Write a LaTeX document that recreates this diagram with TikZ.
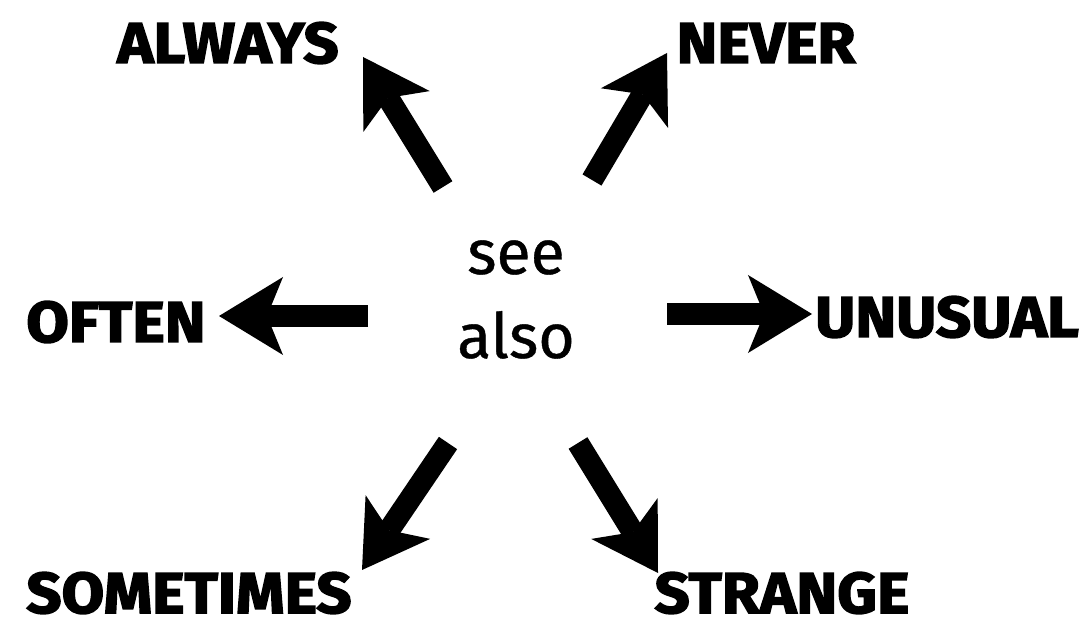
\documentclass[tikz,border=0pt]{standalone}
\usepackage{fontspec}
\setmainfont{Fira Sans}
\newfontfamily\heavyfont{Fira Sans}[BoldFeatures={FakeBold=2.6, FakeStretch=1.07}]
\newfontfamily\seefont{Fira Sans}[FakeBold=0.6]
\usetikzlibrary{arrows.meta}

\begin{document}
\begin{tikzpicture}[
  x=0.025cm, y=-0.025cm,
  word/.style={anchor=base, inner sep=0pt, font=\heavyfont\bfseries\fontsize{41}{48}\selectfont},
  seealso/.style={align=center, inner sep=0pt, font=\seefont\fontsize{44.5}{84}\selectfont},
  arrow/.style={-{Stealth[length=1.6cm, width=1.95cm, inset=0.4cm, line width=0pt]}, line width=0.55cm, black}
]
\useasboundingbox (0,0) rectangle (1079,628);
% centre words
\node[seealso, anchor=base] (see) at (516,274) {see};
\node[seealso, anchor=base] (also) at (516,358) {also};
% the six words round them
\node[word] (always) at (228,63) {ALWAYS};
\node[word] (never) at (766,63) {NEVER};
\node[word] (often) at (116,342) {OFTEN};
\node[word] (unusual) at (947,337) {UNUSUAL};
\node[word] (sometimes) at (189,613) {SOMETIMES};
\node[word] (strange) at (782,613) {STRANGE};
% arrow ends
\coordinate (always-tail) at (443,187);
\coordinate (always-tip) at (363,57);
\coordinate (never-tail) at (592,180);
\coordinate (never-tip) at (667,53);
\coordinate (often-tail) at (368,316);
\coordinate (often-tip) at (219,316);
\coordinate (unusual-tail) at (667,314);
\coordinate (unusual-tip) at (812,314);
\coordinate (sometimes-tail) at (448,443);
\coordinate (sometimes-tip) at (362,570);
\coordinate (strange-tail) at (578,443);
\coordinate (strange-tip) at (658,573);
\draw[arrow] (always-tail) -- (always-tip);
\draw[arrow] (never-tail) -- (never-tip);
\draw[arrow] (often-tail) -- (often-tip);
\draw[arrow] (unusual-tail) -- (unusual-tip);
\draw[arrow] (sometimes-tail) -- (sometimes-tip);
\draw[arrow] (strange-tail) -- (strange-tip);
\end{tikzpicture}
\end{document}
